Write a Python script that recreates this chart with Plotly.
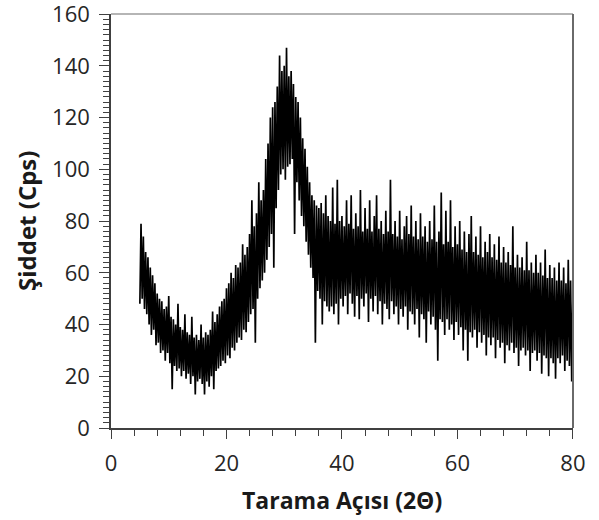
import plotly.graph_objects as go

# XRD pattern (2θ from 5° to 80° in 0.2° steps)
two_theta_start = 5.0
two_theta_step = 0.2
intensity = [
    48, 79, 50, 74, 46,          # 5
    68, 44, 66, 40, 62,          # 6
    36, 59, 38, 56, 32,          # 7
    52, 33, 50, 29, 49,          # 8
    30, 46, 26, 47, 29,          # 9
    51, 25, 43, 15, 42,          # 10
    24, 40, 22, 48, 23,          # 11
    39, 20, 38, 22, 44,          # 12
    19, 37, 21, 36, 17,          # 13
    43, 20, 35, 13, 36,          # 14
    18, 34, 19, 40, 17,          # 15
    35, 13, 37, 18, 36,          # 16
    16, 38, 20, 45, 15,          # 17
    41, 22, 44, 23, 47,          # 18
    24, 49, 26, 50, 25,          # 19
    54, 28, 56, 27, 60,          # 20
    31, 58, 30, 63, 33,          # 21
    62, 35, 64, 34, 71,          # 22
    38, 67, 37, 70, 41,          # 23
    75, 44, 88, 46, 78,          # 24
    33, 83, 50, 95, 54,          # 25
    88, 57, 92, 60, 104,         # 26
    65, 110, 70, 120, 75,        # 27
    124, 62, 126, 85, 132,       # 28
    92, 144, 98, 138, 100,       # 29
    140, 96, 147, 101, 136,      # 30
    102, 138, 104, 133, 75,      # 31
    128, 95, 126, 88, 120,       # 32
    82, 112, 78, 108, 72,        # 33
    101, 67, 95, 62, 90,         # 34
    58, 88, 33, 86, 53,          # 35
    85, 50, 87, 40, 83,          # 36
    49, 90, 47, 82, 45,          # 37
    80, 47, 93, 44, 79,          # 38
    48, 96, 40, 80, 50,          # 39
    82, 47, 78, 51, 88,          # 40
    44, 79, 52, 90, 48,          # 41
    77, 43, 83, 51, 78,          # 42
    42, 92, 50, 76, 47,          # 43
    85, 52, 77, 41, 88,          # 44
    50, 76, 45, 82, 51,          # 45
    90, 44, 77, 49, 80,          # 46
    40, 75, 48, 84, 46,          # 47
    76, 42, 96, 49, 75,          # 48
    44, 80, 47, 74, 40,          # 49
    84, 46, 73, 43, 78,          # 50
    47, 82, 38, 75, 45,          # 51
    86, 44, 74, 40, 80,          # 52
    46, 73, 35, 83, 44,          # 53
    74, 42, 78, 33, 72,          # 54
    45, 80, 40, 73, 43,          # 55
    86, 38, 72, 26, 76,          # 56
    42, 91, 41, 71, 36,          # 57
    84, 42, 72, 38, 88,          # 58
    40, 70, 34, 78, 41,          # 59
    71, 36, 80, 39, 69,          # 60
    30, 76, 38, 68, 26,          # 61
    75, 37, 82, 35, 68,          # 62
    38, 74, 31, 67, 37,          # 63
    78, 33, 66, 36, 72,          # 64
    28, 68, 35, 75, 32,          # 65
    66, 35, 71, 27, 65,          # 66
    34, 74, 31, 64, 33,          # 67
    70, 25, 64, 32, 68,          # 68
    30, 63, 33, 78, 29,          # 69
    62, 31, 67, 24, 62,          # 70
    30, 66, 31, 61, 28,          # 71
    72, 30, 61, 22, 64,          # 72
    29, 60, 30, 67, 26,          # 73
    60, 29, 64, 21, 59,          # 74
    28, 69, 27, 58, 20,          # 75
    63, 27, 58, 25, 62,          # 76
    19, 57, 27, 64, 25,          # 77
    57, 28, 62, 22, 56,          # 78
    26, 65, 24, 57, 18,          # 79
    50,                          # 80
]
two_theta = [round(two_theta_start + i * two_theta_step, 2) for i in range(len(intensity))]

x_ticks = [0, 20, 40, 60, 80]
y_ticks = [0, 20, 40, 60, 80, 100, 120, 140, 160]
x_title = "Tarama Açısı (2Θ)"
y_title = "Şiddet (Cps)"

fig = go.Figure()
fig.add_trace(go.Scatter(
    x=two_theta, y=intensity, mode="lines",
    line=dict(color="#000000", width=1.7),
    showlegend=False, hoverinfo="skip",
))

axis_col = "#404040"
W, H = 599, 520
L, R, T, B = 111, 26, 14, 92
plot_w = W - L - R
plot_h = H - T - B
fig.update_layout(
    width=W, height=H,
    margin=dict(l=L, r=R, t=T, b=B),
    paper_bgcolor="white", plot_bgcolor="white",
    font=dict(family="Open Sans, Noto Sans, sans-serif", color="#262626"),
    shapes=[
        dict(type="line", xref="paper", yref="paper", x0=0, x1=1, y0=1, y1=1,
             line=dict(color="#b5b5b5", width=2)),
        dict(type="line", xref="paper", yref="paper", x0=1, x1=1, y0=0, y1=1,
             line=dict(color="#6a6a6a", width=2)),
    ],
    annotations=[
        dict(text="<b>" + x_title + "</b>", xref="paper", yref="paper",
             x=0.5, y=-72 / plot_h, xanchor="center", yanchor="middle",
             showarrow=False, font=dict(size=23, color="#1a1a1a")),
        dict(text="<b>" + y_title + "</b>", xref="paper", yref="paper",
             x=-85 / plot_w, y=0.5, xanchor="center", yanchor="middle",
             textangle=-90, showarrow=False, font=dict(size=24, color="#1a1a1a")),
    ],
)
fig.update_xaxes(
    range=[0, 80.02], tickvals=x_ticks, ticktext=[str(v) for v in x_ticks],
    showgrid=False, zeroline=False, automargin=False, ticklabeloverflow="allow",
    showline=True, linecolor=axis_col, linewidth=1.5,
    ticks="outside", ticklen=9, tickwidth=1.3, tickcolor=axis_col,
    minor=dict(dtick=4, ticks="outside", ticklen=6, tickwidth=1.2, tickcolor=axis_col),
    tickfont=dict(size=22, color="#262626"), ticklabelstandoff=6,
)
fig.update_yaxes(
    range=[0, 160.05], tickvals=y_ticks, ticktext=[str(v) for v in y_ticks],
    showgrid=False, zeroline=False, automargin=False, ticklabeloverflow="allow",
    showline=True, linecolor=axis_col, linewidth=1.5,
    ticks="outside", ticklen=10, tickwidth=1.3, tickcolor=axis_col,
    minor=dict(dtick=2, ticks="outside", ticklen=6, tickwidth=1, tickcolor=axis_col),
    tickfont=dict(size=22, color="#262626"), ticklabelstandoff=5,
)

# remove the page's default body margin so the figure fills the window
fig.write_html("out.html", config={"displayModeBar": False},
               post_script="document.body.style.margin='0';")
